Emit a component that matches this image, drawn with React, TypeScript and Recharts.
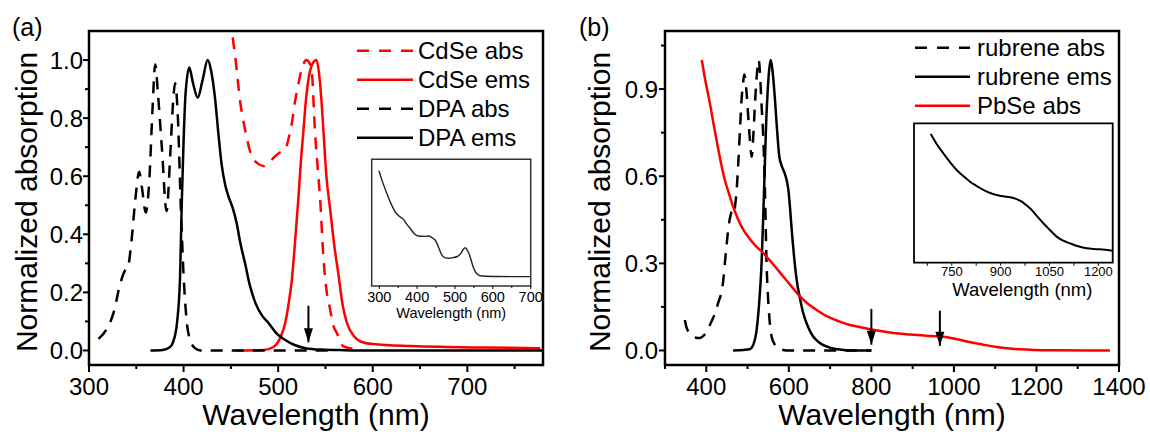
import React from 'react';
import { LineChart, Line, XAxis, YAxis, ReferenceArea, Legend } from 'recharts';

const FONT = '"Liberation Sans", Arial, Helvetica, sans-serif';
const RED = '#ff0000';
const BLACK = '#000000';

// ---------- Panel (a) ----------
const cdseAbs: [number, number][] = [
  [449, 1.15], [451, 1.1], [454.5, 1.014], [460, 0.853], [465, 0.761], [472, 0.669], [478, 0.645],
  [484.5, 0.635], [490, 0.645], [495, 0.663], [501, 0.68], [507.4, 0.692], [511, 0.73], [514.5, 0.784],
  [518, 0.86], [521.5, 0.92], [525, 0.97], [530, 1.0], [533, 0.99], [535.6, 0.957], [539, 0.75],
  [542, 0.62], [544.4, 0.52], [548, 0.313], [551, 0.21], [555, 0.14], [558, 0.09], [562, 0.06],
  [569, 0.014], [580, 0.005],
];
const cdseEms: [number, number][] = [
  [455, 0], [485, 0.002], [495, 0.012], [499, 0.025], [503, 0.05], [507.4, 0.094], [511, 0.16],
  [514.5, 0.244], [518, 0.38], [521.5, 0.53], [524, 0.65], [526.8, 0.76], [529, 0.85], [532, 0.933],
  [536, 0.985], [540.5, 1.0], [543, 0.96], [546, 0.85], [548, 0.75], [551, 0.6], [555, 0.485],
  [559, 0.37], [564, 0.255], [568, 0.16], [572.8, 0.094], [580, 0.05], [587, 0.031], [600, 0.022],
  [640, 0.015], [678, 0.012], [720, 0.01], [777, 0.008],
];
const dpaAbs: [number, number][] = [
  [310, 0.04], [318, 0.07], [326, 0.13], [333, 0.23], [338, 0.275], [341, 0.285], [345, 0.38],
  [349, 0.52], [353, 0.615], [356, 0.56], [360, 0.475], [364, 0.6], [367, 0.82], [370, 0.985],
  [373, 0.88], [377, 0.7], [382, 0.48], [386, 0.68], [389, 0.86], [391, 0.92], [394, 0.8],
  [397, 0.5], [400, 0.26], [403, 0.11], [407, 0.035], [412, 0.008], [418, 0], [560, 0],
];
const dpaEms: [number, number][] = [
  [365, 0], [378, 0.002], [385, 0.01], [389, 0.03], [393, 0.094], [396.3, 0.255], [398, 0.5],
  [400, 0.72], [402, 0.88], [406, 0.974], [410, 0.92], [415, 0.87], [420, 0.93], [425.5, 1.0],
  [429, 0.965], [433, 0.876], [437, 0.74], [440, 0.646], [444, 0.57], [447.5, 0.53], [452, 0.49],
  [456, 0.44], [460, 0.37], [465, 0.3], [470, 0.225], [476, 0.163], [483, 0.12], [490, 0.094],
  [498, 0.06], [507, 0.037], [518, 0.018], [529, 0.008], [545, 0.003], [570, 0.001], [600, 0], [780, 0],
];
const arrowA: [number, number][] = [[532, 0.154], [532, 0.028]];

const aXTicks = [300, 350, 400, 450, 500, 550, 600, 650, 700, 750];
const aXLabels = [300, 400, 500, 600, 700];
const aYTicks = [0, 0.1, 0.2, 0.3, 0.4, 0.5, 0.6, 0.7, 0.8, 0.9, 1.0];
const aYLabels = [0, 0.2, 0.4, 0.6, 0.8, 1.0];

// inset (a): CdSe absorption
const insetA: [number, number][] = [
  [299, 0.91], [310, 0.81], [320, 0.73], [331, 0.65], [342, 0.586], [353, 0.55], [364, 0.526],
  [372, 0.49], [381.5, 0.455], [392, 0.415], [403.5, 0.395], [418, 0.392], [430, 0.395], [440, 0.38],
  [447.7, 0.363], [456, 0.31], [465, 0.245], [474, 0.222], [483, 0.219], [494, 0.224], [505, 0.231],
  [515, 0.255], [522, 0.29], [527, 0.302], [533, 0.28], [540, 0.231], [547, 0.16], [553.6, 0.113],
  [562, 0.085], [571, 0.079], [600, 0.075], [650, 0.074], [700, 0.074],
];
const iaXTicks = [300, 350, 400, 450, 500, 550, 600, 650, 700];
const iaXLabels = [300, 400, 500, 600, 700];

// ---------- Panel (b) ----------
const rubAbs: [number, number][] = [
  [348, 0.105], [352, 0.08], [360, 0.06], [372, 0.045], [385, 0.043], [393, 0.05], [401, 0.065],
  [411, 0.095], [421, 0.128], [429, 0.165], [437, 0.203], [441, 0.24], [445, 0.3], [449, 0.36],
  [453, 0.415], [458, 0.46], [462, 0.478], [466, 0.47], [470, 0.5], [474, 0.56], [477.5, 0.644],
  [482, 0.77], [486, 0.873], [490, 0.93], [492, 0.95], [495, 0.93], [498, 0.88], [502, 0.8],
  [506, 0.72], [510, 0.667], [514, 0.74], [518, 0.85], [522, 0.94], [527, 1.0], [530, 0.96],
  [533, 0.87], [539, 0.7], [543, 0.5], [546, 0.3], [549, 0.2], [553, 0.11], [558, 0.05],
  [566, 0.02], [575, 0.006], [586, 0.002], [600, 0], [800, 0],
];
const rubEms: [number, number][] = [
  [465, 0], [490, 0.002], [506, 0.005], [514, 0.02], [522, 0.071], [528, 0.16], [534, 0.3],
  [538, 0.46], [542, 0.644], [545, 0.78], [548, 0.873], [552, 0.96], [556, 1.0], [560, 0.97],
  [566, 0.873], [571, 0.77], [577, 0.667], [583, 0.635], [590, 0.61], [595, 0.585], [599, 0.552],
  [603, 0.49], [607, 0.415], [613, 0.32], [619, 0.243], [627, 0.18], [635, 0.128], [647, 0.08],
  [659, 0.048], [675, 0.026], [691, 0.014], [710, 0.006], [732, 0.002], [760, 0], [800, 0],
];
const pbseAbs: [number, number][] = [
  [389, 1.0], [399, 0.92], [409, 0.85], [417, 0.785], [425, 0.724], [435, 0.65], [445, 0.587],
  [455, 0.54], [465, 0.495], [477, 0.452], [490, 0.415], [505, 0.385], [522, 0.357], [535, 0.34],
  [546, 0.323], [566, 0.29], [587, 0.254], [607, 0.22], [627, 0.186], [647, 0.16], [667, 0.14],
  [687, 0.122], [708, 0.108], [728, 0.097], [748, 0.088], [772, 0.081], [800, 0.072], [826, 0.066],
  [853, 0.06], [893, 0.055], [933, 0.051], [966, 0.048], [990, 0.044], [1014, 0.037], [1040, 0.028],
  [1071, 0.02], [1100, 0.013], [1128, 0.008], [1160, 0.004], [1192, 0.002], [1250, 0.001], [1378, 0],
];
const arrowB1: [number, number][] = [[800, 0.143], [800, 0.02]];
const arrowB2: [number, number][] = [[966, 0.137], [966, 0.016]];

const bXTicks = [300, 400, 500, 600, 700, 800, 900, 1000, 1100, 1200, 1300, 1400];
const bXLabels = [400, 600, 800, 1000, 1200, 1400];
const bYTicks = [0, 0.15, 0.3, 0.45, 0.6, 0.75, 0.9, 1.05];
const bYLabels = [0, 0.3, 0.6, 0.9];

// inset (b): PbSe absorption
const insetB: [number, number][] = [
  [685.5, 0.923], [704, 0.85], [724, 0.785], [745, 0.72], [765, 0.665], [786, 0.62], [806, 0.581],
  [827, 0.55], [847, 0.522], [868, 0.5], [888, 0.486], [908, 0.476], [929, 0.469], [947, 0.458],
  [965, 0.438], [980, 0.41], [995.5, 0.378], [1013, 0.33], [1031, 0.283], [1052, 0.233], [1072, 0.187],
  [1092, 0.158], [1113, 0.139], [1138, 0.118], [1164, 0.103], [1185, 0.098], [1205, 0.096], [1244, 0.086],
];
const ibXTicks = [675, 750, 825, 900, 975, 1050, 1125, 1200];
const ibXLabels = [750, 900, 1050, 1200];

type Series = { name: string; data: [number, number][]; color: string; dashed: boolean };
const seriesA: Series[] = [
  { name: 'CdSe abs', data: cdseAbs, color: RED, dashed: true },
  { name: 'CdSe ems', data: cdseEms, color: RED, dashed: false },
  { name: 'DPA abs', data: dpaAbs, color: BLACK, dashed: true },
  { name: 'DPA ems', data: dpaEms, color: BLACK, dashed: false },
];
const seriesB: Series[] = [
  { name: 'rubrene abs', data: rubAbs, color: BLACK, dashed: true },
  { name: 'rubrene ems', data: rubEms, color: BLACK, dashed: false },
  { name: 'PbSe abs', data: pbseAbs, color: RED, dashed: false },
];

const DASH = '12 9';
const toPts = (arr: [number, number][]) => arr.map(([x, y]) => ({ x, y }));

const fmtDec = (v: number) => v.toFixed(1);
const fmtInt = (v: number) => String(v);

function makeXTick(labels: number[], o: { major: number; minor: number; fs: number; dy: number; sw: number; fmt: (v: number) => string }) {
  return (props: any) => {
    const { x, y, payload } = props;
    const v = payload.value;
    const isMajor = labels.includes(v);
    return (
      <g>
        <line x1={x} x2={x} y1={y} y2={y + (isMajor ? o.major : o.minor)} stroke="#000" strokeWidth={o.sw} />
        {isMajor ? (
          <text x={x} y={y + o.dy} textAnchor="middle" fontSize={o.fs} fontFamily={FONT} fill="#000">
            {o.fmt(v)}
          </text>
        ) : null}
      </g>
    );
  };
}

function makeYTick(labels: number[], o: { major: number; minor: number; fs: number; gap: number; dy: number; sw: number }) {
  return (props: any) => {
    const { x, y, payload } = props;
    const v = payload.value;
    const isMajor = labels.includes(v);
    return (
      <g>
        <line x1={x - (isMajor ? o.major : o.minor)} x2={x} y1={y} y2={y} stroke="#000" strokeWidth={o.sw} />
        {isMajor ? (
          <text x={x - o.gap} y={y + o.dy} textAnchor="end" fontSize={o.fs} fontFamily={FONT} fill="#000">
            {fmtDec(v)}
          </text>
        ) : null}
      </g>
    );
  };
}

const mainXTickA = makeXTick(aXLabels, { major: 7, minor: 4, fs: 24, dy: 30, sw: 2, fmt: fmtInt });
const mainXTickB = makeXTick(bXLabels, { major: 7, minor: 4, fs: 24, dy: 30, sw: 2, fmt: fmtInt });
const mainYTickA = makeYTick(aYLabels, { major: 6, minor: 4, fs: 24, gap: 6, dy: 8.5, sw: 2 });
const mainYTickB = makeYTick(bYLabels, { major: 6, minor: 4, fs: 24, gap: 7, dy: 8.5, sw: 2 });
const insetXTickA = makeXTick(iaXLabels, { major: 3, minor: 2, fs: 14.5, dy: 15.5, sw: 1, fmt: fmtInt });
const insetXTickB = makeXTick(ibXLabels, { major: 3, minor: 3, fs: 13, dy: 13, sw: 1, fmt: fmtInt });

const XTitle = (p: any) => {
  const vb = p.viewBox || { x: 0, y: 0, width: 0, height: 0 };
  const fs = p.fs || 30;
  return (
    <text x={vb.x + vb.width / 2 + (p.dx || 0)} y={vb.y + (p.base || 60)} textAnchor="middle" fontSize={fs} fontFamily={FONT} fill="#000">
      Wavelength (nm)
    </text>
  );
};

const YTitle = (p: any) => {
  const vb = p.viewBox || { x: 0, y: 0, width: 0, height: 0 };
  const cx = vb.x + (p.base || 37);
  const cy = vb.y + vb.height / 2 + 4;
  return (
    <text x={cx} y={cy} transform={`rotate(-90 ${cx} ${cy})`} textAnchor="middle" fontSize={30} fontFamily={FONT} fill="#000">
      Normalized absorption
    </text>
  );
};

const arrowDot = (p: any) =>
  p.index === 1 ? (
    <polygon key={`ah-${p.cx}`} points={`${p.cx},${p.cy} ${p.cx - 4.5},${p.cy - 14} ${p.cx + 4.5},${p.cy - 14}`} fill="#000" />
  ) : (
    <g key={`an-${p.cx}-${p.index}`} />
  );

function makeLegend(series: Series[], o: { y0: number; x0: number; x1: number; tx: number; w: number; h: number }) {
  return (props: any) => {
    const present = new Set((props.payload || []).map((e: any) => e.value));
    const items = series.filter((s) => present.size === 0 || present.has(s.name));
    return (
      <svg width={o.w} height={o.h} style={{ display: 'block' }}>
        {items.map((s, i) => {
          const y = o.y0 + i * 29;
          return (
            <g key={s.name}>
              <line x1={o.x0} x2={o.x1} y1={y} y2={y} stroke={s.color} strokeWidth={2.5} strokeDasharray={s.dashed ? '12 10' : undefined} />
              <text x={o.tx} y={y + 8.5} fontSize={24} fontFamily={FONT} fill="#000">
                {s.name}
              </text>
            </g>
          );
        })}
      </svg>
    );
  };
}

const legendA = makeLegend(seriesA, { y0: 16.7, x0: 7, x1: 63, tx: 68, w: 200, h: 125 });
const legendB = makeLegend(seriesB, { y0: 15.7, x0: 5, x1: 60, tx: 67, w: 210, h: 95 });

function renderSeries(series: Series[]) {
  return series.map((s) => (
    <Line
      key={s.name}
      name={s.name}
      data={toPts(s.data)}
      dataKey="y"
      type="monotone"
      stroke={s.color}
      strokeWidth={2.5}
      strokeDasharray={s.dashed ? DASH : undefined}
      dot={false}
      activeDot={false}
      isAnimationActive={false}
    />
  ));
}

function renderArrow(key: string, pts: [number, number][]) {
  return (
    <Line
      key={key}
      data={toPts(pts)}
      dataKey="y"
      type="linear"
      stroke="#000"
      strokeWidth={2}
      dot={arrowDot}
      activeDot={false}
      legendType="none"
      isAnimationActive={false}
    />
  );
}

export default function App() {
  return (
    <div style={{ position: 'absolute', left: 0, top: 0, width: 1150, height: 434, background: '#fff', overflow: 'hidden' }}>
      {/* Panel (a) */}
      <div style={{ position: 'absolute', left: 0, top: 0 }}>
        <LineChart width={575} height={434} margin={{ top: 31, right: 32, bottom: 0, left: 0 }}>
          <XAxis type="number" dataKey="x" domain={[300, 780]} allowDataOverflow ticks={aXTicks} interval={0}
            tickSize={0} tickMargin={0} tickLine={false} axisLine={false} height={69} tick={mainXTickA} label={<XTitle base={60} />} />
          <YAxis type="number" domain={[-0.05, 1.1]} allowDataOverflow ticks={aYTicks} interval={0}
            tickSize={0} tickMargin={0} tickLine={false} axisLine={false} width={89} tick={mainYTickA} label={<YTitle base={37} />} />
          {renderSeries(seriesA)}
          {renderArrow('arrA', arrowA)}
          <ReferenceArea x1={300} x2={780} y1={-0.05} y2={1.1} fill="none" stroke="#000" strokeWidth={2.5} ifOverflow="visible" />
          <Legend layout="vertical" align="center" verticalAlign="middle" content={legendA}
            wrapperStyle={{ left: 350, top: 34, width: 200, height: 125 }} />
        </LineChart>
      </div>

      {/* Inset (a) */}
      <div style={{ position: 'absolute', left: 360, top: 150 }}>
        <LineChart width={190} height={180} margin={{ top: 9.3, right: 19.3, bottom: 0, left: 11.7 }}>
          <XAxis type="number" dataKey="x" domain={[280, 700]} allowDataOverflow ticks={iaXTicks} interval={0}
            tickSize={0} tickMargin={0} tickLine={false} axisLine={false} height={44} tick={insetXTickA}
            label={<XTitle base={32} fs={14.5} />} />
          <YAxis type="number" domain={[0, 1]} allowDataOverflow hide />
          <Line data={toPts(insetA)} dataKey="y" type="monotone" stroke="#222" strokeWidth={1.4} dot={false} activeDot={false} isAnimationActive={false} />
          <ReferenceArea x1={280} x2={700} y1={0} y2={1} fill="none" stroke="#333" strokeWidth={1.5} ifOverflow="visible" />
        </LineChart>
      </div>

      {/* Panel (b) */}
      <div style={{ position: 'absolute', left: 575, top: 0 }}>
        <LineChart width={575} height={434} margin={{ top: 31, right: 31, bottom: 0, left: 0 }}>
          <XAxis type="number" dataKey="x" domain={[300, 1400]} allowDataOverflow ticks={bXTicks} interval={0}
            tickSize={0} tickMargin={0} tickLine={false} axisLine={false} height={69} tick={mainXTickB} label={<XTitle base={60} />} />
          <YAxis type="number" domain={[-0.05, 1.1]} allowDataOverflow ticks={bYTicks} interval={0}
            tickSize={0} tickMargin={0} tickLine={false} axisLine={false} width={90} tick={mainYTickB} label={<YTitle base={35} />} />
          {renderSeries(seriesB)}
          {renderArrow('arrB1', arrowB1)}
          {renderArrow('arrB2', arrowB2)}
          <ReferenceArea x1={300} x2={1400} y1={-0.05} y2={1.1} fill="none" stroke="#000" strokeWidth={2.5} ifOverflow="visible" />
          <Legend layout="vertical" align="center" verticalAlign="middle" content={legendB}
            wrapperStyle={{ left: 335, top: 32, width: 210, height: 95 }} />
        </LineChart>
      </div>

      {/* Inset (b) */}
      <div style={{ position: 'absolute', left: 900, top: 110 }}>
        <LineChart width={230} height={200} margin={{ top: 13.3, right: 17.3, bottom: 0, left: 14 }}>
          <XAxis type="number" dataKey="x" domain={[634, 1244]} allowDataOverflow ticks={ibXTicks} interval={0}
            tickSize={0} tickMargin={0} tickLine={false} axisLine={false} height={47.3} tick={insetXTickB}
            label={<XTitle base={33} fs={18.5} dx={9} />} />
          <YAxis type="number" domain={[0, 1]} allowDataOverflow hide />
          <Line data={toPts(insetB)} dataKey="y" type="monotone" stroke="#000" strokeWidth={2} dot={false} activeDot={false} isAnimationActive={false} />
          <ReferenceArea x1={634} x2={1244} y1={0} y2={1} fill="none" stroke="#000" strokeWidth={1.8} ifOverflow="visible" />
        </LineChart>
      </div>

      {/* Panel labels */}
      <svg width={1150} height={434} style={{ position: 'absolute', left: 0, top: 0, pointerEvents: 'none' }}>
        <text x={12} y={36} fontSize={25} fontFamily={FONT} fill="#000">(a)</text>
        <text x={579} y={36} fontSize={25} fontFamily={FONT} fill="#000">(b)</text>
      </svg>
    </div>
  );
}
